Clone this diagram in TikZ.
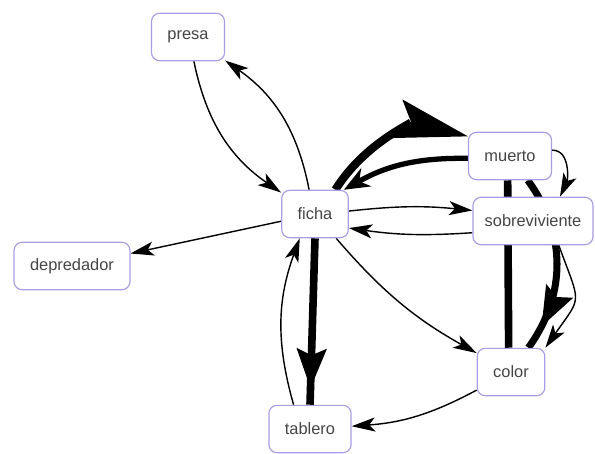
\documentclass[tikz,border=0pt]{standalone}
\usepackage{fontspec}
\setmainfont{Liberation Sans}
\usepackage{tikz}
\usetikzlibrary{arrows.meta}
\usetikzlibrary{backgrounds}
\usetikzlibrary{decorations.markings}
\definecolor{bordelila}{rgb}{0.66,0.62,0.89}
\definecolor{textogris}{rgb}{0.27,0.27,0.27}
\tikzstyle{estado}=[draw=bordelila,line width=1pt,fill=white,rounded corners=0.24cm,minimum height=1.42cm,inner xsep=0.48cm,text=textogris,font=\fontsize{14}{16}\selectfont]
\tikzstyle{fina}=[->,line width=1.2pt]
\tikzset{flechamedio/.style={postaction={decorate},decoration={markings,mark=at position #1 with {\arrow{Stealth[length=34pt,width=26pt,inset=6pt,line width=0pt]}}}}}

\begin{document}
\begin{tikzpicture}[line cap=round,line join=round,>={Stealth[length=20pt,width=12pt,inset=5pt]},x=0.03cm,y=0.03cm]
        \useasboundingbox (0,0) rectangle (595,-453);
        % nodos
        \node[estado] (presa) at (188,-37) {presa};
        \node[estado] (depredador) at (72,-266) {depredador};
        \node[estado] (ficha) at (315,-214) {ficha};
        \node[estado] (muerto) at (510,-156) {muerto};
        \node[estado,inner xsep=0.1cm,minimum width=3.6cm] (sobreviviente) at (533,-221) {sobreviviente};
        \node[estado] (color) at (511,-372) {color};
        \node[estado] (tablero) at (310,-429) {tablero};
        \begin{scope}[on background layer]
            % aristas gruesas
            \draw [line width=6.5pt] ([xshift=-2pt]muerto.south) -- ([xshift=-2pt]color.north);
            \draw [line width=6pt,flechamedio=0.86] (muerto) to[bend left=36] (color);
            \draw [line width=6.5pt,flechamedio=0.9] (ficha.south) -- (tablero.north);
            \draw [line width=7pt,-{Stealth[length=62pt,width=34pt,inset=12pt,line width=0pt]}] (ficha.50) to[bend left=36] (muerto.155);
            \draw [line width=4.5pt,-{Stealth[length=22pt,width=18pt,line width=0pt]}] ([yshift=-2pt]muerto.west) to[bend right=15] (ficha.40);
            % aristas finas
            \draw [fina] (presa) to[bend right=22] (ficha);
            \draw [fina] (ficha) to[bend right=22] (presa);
            \draw [fina] (ficha) -- (depredador);
            \draw [fina] ([yshift=2.5pt]ficha.east) to[bend left=6] ([yshift=9pt]sobreviviente.west);
            \draw [fina] ([yshift=-10pt]sobreviviente.west) to[bend left=6] ([yshift=-12pt]ficha.east);
            \draw [fina] (ficha) to[bend right=10] (color);
            \draw [fina] (color) to[bend left=12] (tablero);
            \draw [fina] ([xshift=-14pt]tablero.north) to[bend left=18] ([xshift=-13pt]ficha.south);
            \draw [fina] ([yshift=5pt]muerto.east) to[out=0,in=65] ([xshift=23pt]sobreviviente.north);
            \draw [fina] ([xshift=22pt]sobreviviente.south) to[out=-70,in=55,looseness=1.6] (color.north east);
        \end{scope}
\end{tikzpicture}
\end{document}
